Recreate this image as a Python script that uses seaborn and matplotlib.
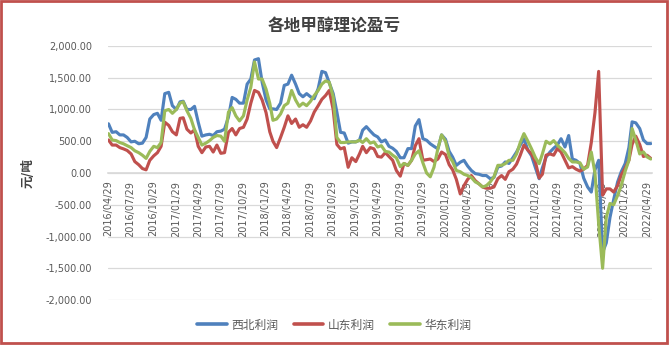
import matplotlib
matplotlib.use("Agg")
import matplotlib.pyplot as plt
import matplotlib.dates as mdates
from matplotlib.patches import Rectangle
from matplotlib.ticker import FuncFormatter
import numpy as np
import pandas as pd
import seaborn as sns

# ---------------- data (semi-monthly) ----------------
dates = pd.date_range("2016-04-30", periods=146, freq="SM")

northwest = [
    775, 640, 650, 600, 600, 560, 490, 500, 460, 470, 560, 850, 920, 940, 830,
    1250, 1270, 1060, 1000, 1120, 1130, 1000, 1000, 1050, 800, 580, 600, 610, 590, 650,
    660, 690, 880, 1190, 1160, 1100, 1100, 1400, 1480, 1780, 1800, 1430, 1150, 1010, 1010,
    1000, 1100, 1380, 1400, 1540, 1400, 1250, 1200, 1250, 1200, 1170, 1330, 1600, 1580,
    1420, 1250, 960, 640, 630, 470, 490, 490, 516, 674, 730, 660, 600, 568, 490,
    520, 420, 390, 340, 240, 240, 384, 384, 740, 840, 540, 516, 460, 420,
    380, 600, 530, 340, 250, 120, 170, 200, 110, 40, -10, -20, -40, -40, -90,
    -70, 95, 110, 174, 150, 240, 330, 440, 540, 360, 270, 80, -90, 80, 250,
    330, 390, 440, 540, 410, 590, 220, 200, 150, -80, -220, -300, 50, 200, -1250,
    -1100, -700, -420, -142, 20, 150, 400, 805, 790, 700, 520, 463, 463,
]
shandong = [
    520, 440, 440, 400, 380, 355, 300, 180, 130, 70, 50, 200, 270, 320, 420,
    800, 750, 650, 600, 860, 870, 690, 630, 680, 420, 320, 410, 420, 330, 440,
    310, 320, 640, 700, 600, 700, 720, 850, 1100, 1300, 1270, 1150, 950, 650, 500,
    400, 560, 720, 900, 780, 850, 720, 760, 720, 820, 960, 1060, 1160, 1220,
    1300, 1000, 450, 380, 400, 90, 240, 180, 300, 420, 320, 400, 380, 260, 250,
    320, 260, 200, 40, -50, 150, 120, 200, 430, 540, 200, 210, 220, 180,
    220, 330, 290, 130, 50, -100, -330, -200, -100, -40, -120, -170, -221, -240, -240,
    -220, -89, -40, -100, 20, 60, 140, 280, 440, 360, 300, 170, -80, -20, 280,
    300, 280, 384, 330, 200, 80, 100, 60, 30, 60, 121, 480, 950, 1600, -350,
    -250, -250, -300, -200, -30, 80, 200, 450, 580, 450, 260, 279, 230,
]
eastchina = [
    620, 520, 510, 480, 460, 430, 400, 350, 320, 280, 230, 340, 420, 400, 480,
    980, 1000, 940, 1000, 1100, 1120, 980, 860, 680, 560, 440, 470, 510, 560, 590,
    580, 500, 960, 1030, 900, 820, 900, 1150, 1350, 1750, 1480, 1480, 1320, 1100, 830,
    850, 930, 1060, 1100, 1300, 1150, 1050, 1100, 1060, 1130, 1220, 1300, 1400, 1450,
    1430, 1200, 560, 480, 480, 490, 490, 490, 516, 480, 540, 470, 490, 410, 430,
    340, 330, 280, 240, 100, 150, 121, 200, 300, 350, 160, 0, -60, 90,
    384, 600, 500, 260, 180, 40, 20, -20, -40, -70, -140, -170, -220, -200, -140,
    -60, 121, 121, 147, 200, 200, 300, 480, 620, 500, 380, 240, 147, 300, 500,
    460, 510, 437, 384, 320, 230, 174, 174, 160, 60, 95, 330, 0, -800, -1500,
    -700, -480, -500, -353, -195, 30, 200, 700, 520, 300, 332, 253, 220,
]
series_names = ["西北利润", "山东利润", "华东利润"]
series_colors = ["#4F81BD", "#C0504D", "#9BBB59"]
tick_dates = pd.date_range("2016-04-29", periods=25, freq=pd.DateOffset(months=3))
y_ticks = [2000, 1500, 1000, 500, 0, -500, -1000, -1500, -2000]

df = pd.concat([
    pd.DataFrame({"date": dates, "value": vals, "series": name})
    for name, vals in zip(series_names, [northwest, shandong, eastchina])
], ignore_index=True)

# ---------------- figure ----------------
sns.set_theme(style="white")
plt.rcParams["font.family"] = ["DejaVu Sans", "Noto Sans CJK SC"]

fig = plt.figure(figsize=(6.69, 3.45), dpi=100)
ax = fig.add_axes([0.1607, 0.1304, 0.9746 - 0.1607, 0.8667 - 0.1304])

sns.lineplot(data=df, x="date", y="value", hue="series", hue_order=series_names,
             palette=series_colors, linewidth=2.25, ax=ax, sort=False)

ax.set_ylim(-2000, 2000)
ax.set_xlim(pd.Timestamp("2016-04-26"), pd.Timestamp("2022-05-20"))
ax.set_yticks(y_ticks)
ax.yaxis.set_major_formatter(FuncFormatter(lambda v, p: f"{v:,.2f}"))
ax.set_xticks(tick_dates)
ax.xaxis.set_major_formatter(mdates.DateFormatter("%Y/%m/%d"))
ax.set_xlabel("")
ax.set_ylabel("")

ax.grid(axis="y", color="#D9D9D9", linewidth=0.9)
ax.grid(axis="x", visible=False)
ax.set_axisbelow(True)
for s in ["top", "right", "left"]:
    ax.spines[s].set_visible(False)
ax.spines["bottom"].set_position(("data", 0))
ax.spines["bottom"].set_color("#D9D9D9")
ax.spines["bottom"].set_linewidth(1.2)
ax.spines["bottom"].set_zorder(0.5)

ax.tick_params(axis="y", length=0, pad=11, labelsize=7, labelcolor="#595959")
ax.tick_params(axis="x", length=0, pad=5.5, labelsize=7, labelcolor="#595959",
               labelrotation=90)

# legend
handles, labels = ax.get_legend_handles_labels()
ax.get_legend().remove()
leg = fig.legend(handles, labels, loc="center", bbox_to_anchor=(0.5, 0.058), ncol=3,
                 frameon=False, handlelength=2.5, handletextpad=0.4,
                 columnspacing=1.3, fontsize=8.5)
for t in leg.get_texts():
    t.set_color("#595959")
    t.set_family(["Noto Sans CJK SC", "DejaVu Sans"])
for h in leg.get_lines():
    h.set_linewidth(2.6)

fig.text(0.5, 0.923, "各地甲醇理论盈亏", ha="center", va="center", fontsize=12,
         fontweight="bold", color="#404040", family=["Noto Sans CJK SC", "DejaVu Sans"])
fig.text(0.042, 0.4986, "元/吨", ha="center", va="center", rotation=90, fontsize=9,
         fontweight="bold", color="#404040", family=["Noto Sans CJK SC", "DejaVu Sans"])

fig.patches.append(Rectangle((0.0022, 0.0058), 0.9948, 0.99, transform=fig.transFigure,
                             fill=False, edgecolor="#C0504D", linewidth=2))

fig.savefig("out.png", dpi=100)
